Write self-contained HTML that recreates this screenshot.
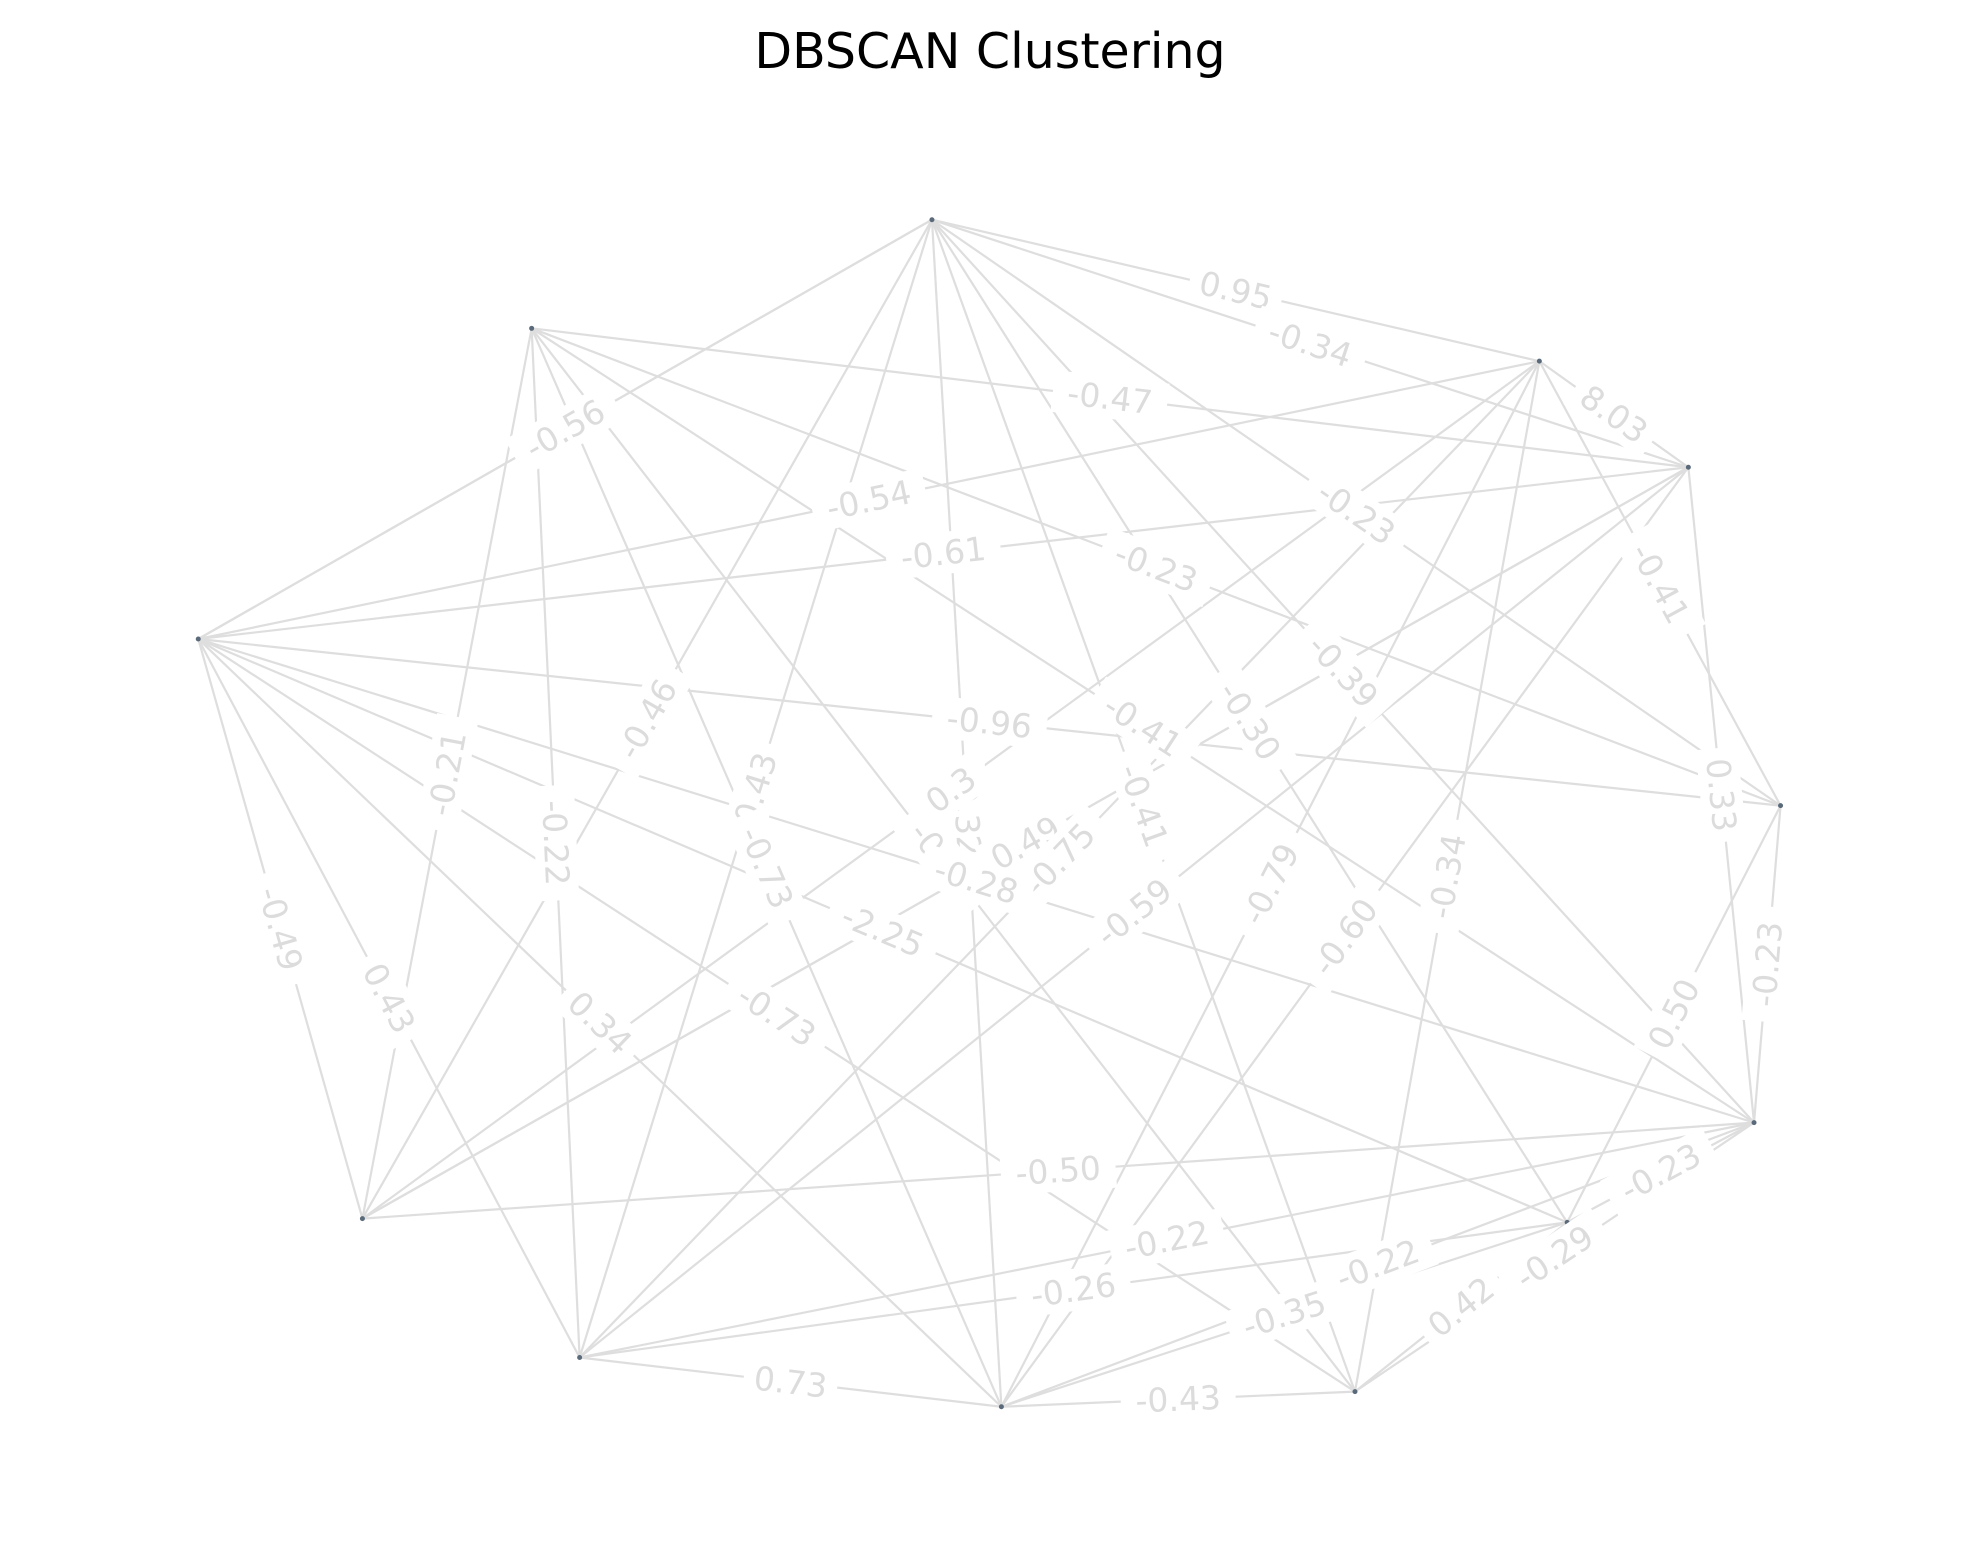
<!DOCTYPE html>
<html><head><meta charset="utf-8"><style>
html,body{margin:0;padding:0;background:#fff;}
svg{display:block;}
</style></head><body>
<svg id="chart" width="1980" height="1563" viewBox="0 0 1980 1563" xmlns="http://www.w3.org/2000/svg">
<text x="990" y="68" text-anchor="middle" font-family="DejaVu Sans, Liberation Sans, sans-serif" font-size="49" fill="#000">DBSCAN Clustering</text>
<g id="edges"></g>
<g id="nodes"></g>
<g id="labels"></g>
</svg>
<script>
// node layout positions (display coords scale 1.2628)
const nodeNames = ['A','B','C','D','E','F','G','H','I','J','K','L'];
const nodeX = [738,421,1219,1337,157,1410,1389,1241,287,459,793,1073];
const nodeY = [174,260,286,370,506,638,889,968,965,1075,1114,1102];
// edges: source, target, weight label
const edgeSrc = ['A','A','C','B','A','E','E','A','B','C','A','A','B','E','A','B','B','A','B','A','B','D','C','E','E','C','D','A','C','D','C','D','F','F','E','E','E','E','I','J','J','K','K','G','G','L','J','K','E','I'];
const edgeTgt = ['C','D','D','D','E','C','D','F','F','F','G','H','G','F','I','I','J','J','K','K','L','I','J','H','G','I','J','L','K','K','L','G','G','H','I','J','K','L','G','G','H','H','G','H','L','H','K','L','A','D'];
const edgeLbl = ['0.95','-0.34','8.03','-0.47','-0.56','-0.54','-0.61','-0.23','-0.23','-0.41','-0.39','-0.30','-0.41','-0.96','-0.46','-0.21','-0.22','0.43','-0.73','-0.32','-0.36','0.49','-0.75','-2.25','-0.28','0.3','-0.59','-0.41','-0.79','-0.60','-0.34','0.33','-0.23','0.50','-0.49','0.43','0.34','-0.73','-0.50','-0.22','-0.26','-0.35','-0.22','-0.23','-0.29','0.42','0.73','-0.43','',''];
const S = 1.2628;
const NS='http://www.w3.org/2000/svg';
const px = n => nodeX[nodeNames.indexOf(n)]*S;
const py = n => nodeY[nodeNames.indexOf(n)]*S;
const eg=document.getElementById('edges'), ng=document.getElementById('nodes'), lg=document.getElementById('labels');
for(let k=0;k<edgeSrc.length;k++){
  const a=edgeSrc[k], b=edgeTgt[k];
  if(a===b) continue;
  const x1=px(a),y1=py(a),x2=px(b),y2=py(b);
  const ln=document.createElementNS(NS,'line');
  ln.setAttribute('x1',x1);ln.setAttribute('y1',y1);ln.setAttribute('x2',x2);ln.setAttribute('y2',y2);
  ln.setAttribute('stroke','#dedede');ln.setAttribute('stroke-width','2.2');
  
  
  eg.appendChild(ln);
  if(!edgeLbl[k]) continue;
  const mx=(x1+x2)/2, my=(y1+y2)/2;
  let ang=Math.atan2(y2-y1,x2-x1)*180/Math.PI;
  if(ang>90) ang-=180; if(ang<-90) ang+=180;
  const g=document.createElementNS(NS,'g');
  g.setAttribute('transform','translate('+mx+','+my+') rotate('+ang+')');
  
  
  const t=document.createElementNS(NS,'text');
  t.textContent=edgeLbl[k];
  t.setAttribute('text-anchor','middle');t.setAttribute('dominant-baseline','central');
  t.setAttribute('font-family','DejaVu Sans, Liberation Sans, sans-serif');
  t.setAttribute('font-size','33');t.setAttribute('fill','#dcdcdc');
  const w=edgeLbl[k].length*21+10;
  const r=document.createElementNS(NS,'rect');
  r.setAttribute('x',-w/2);r.setAttribute('y',-21);r.setAttribute('width',w);r.setAttribute('height',42);
  r.setAttribute('fill','#fff');
  g.appendChild(r);g.appendChild(t);lg.appendChild(g);
}
for(let i=0;i<nodeNames.length;i++){
  const c=document.createElementNS(NS,'circle');
  c.setAttribute('cx',nodeX[i]*S);c.setAttribute('cy',nodeY[i]*S);c.setAttribute('r','2.5');
  c.setAttribute('fill','#5a6a7a');
  
  
  ng.appendChild(c);
}
</script>
</body></html>
